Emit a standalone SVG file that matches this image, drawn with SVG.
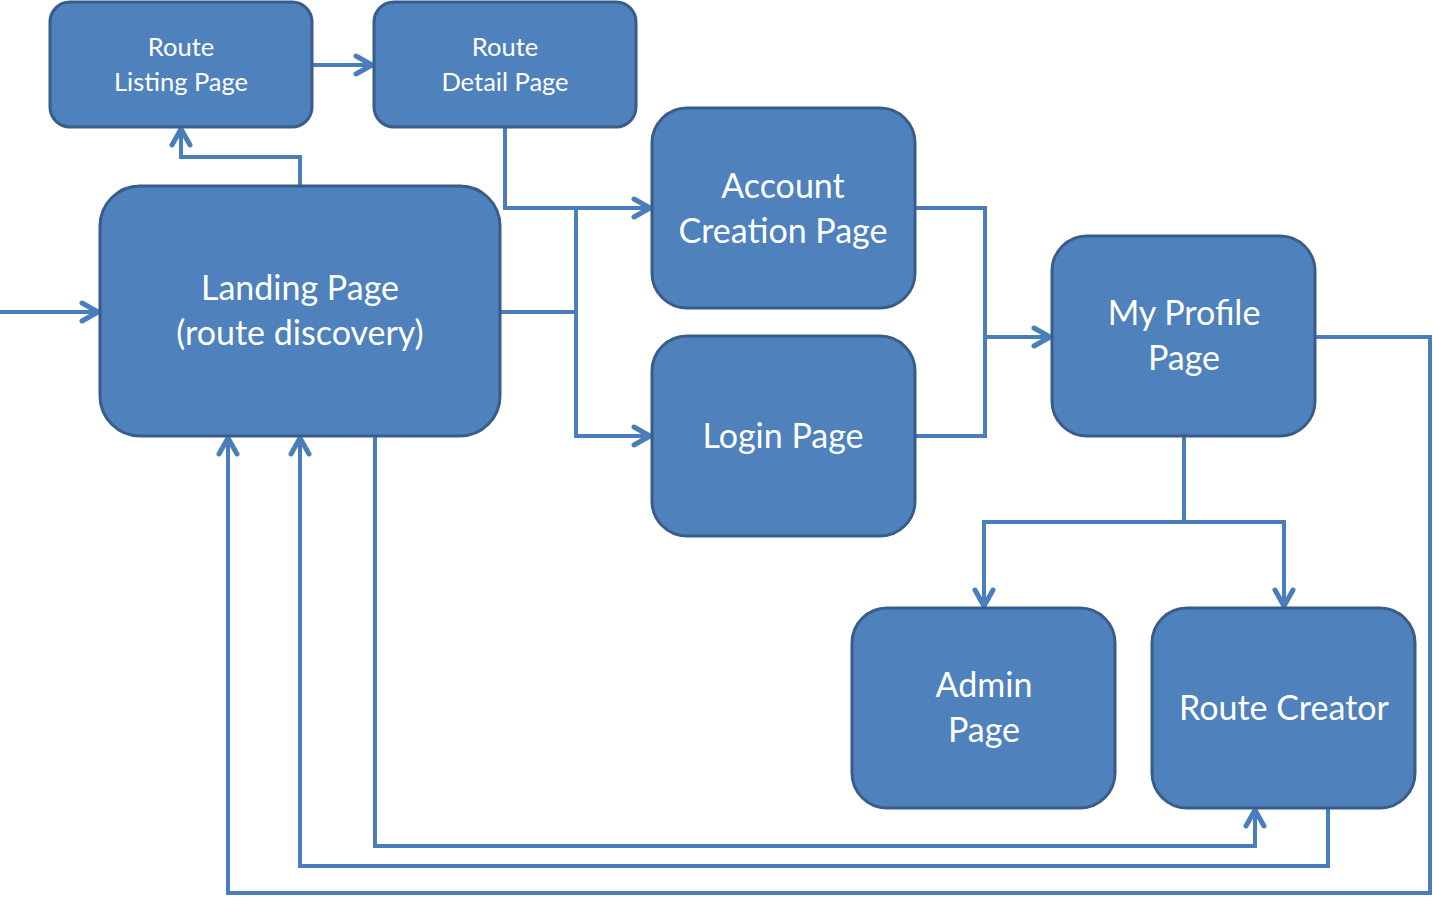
<svg xmlns="http://www.w3.org/2000/svg" width="1433" height="897" viewBox="0 0 1433 897">
<defs>
<style>
.node{fill:#4F81BD;stroke:#385D8A;stroke-width:3}
.t{fill:#fff;font-family:Lato,"Open Sans","Noto Sans",sans-serif;text-anchor:middle}
.s{font-size:25.5px}
.b{font-size:34px}
.c{fill:none;stroke:#4A7EBB;stroke-width:4;stroke-linejoin:miter}
</style>
<marker id="a" viewBox="0 0 22 24" refX="19" refY="12" markerWidth="22" markerHeight="24" markerUnits="userSpaceOnUse" orient="auto">
<path d="M3,3 L19,12 L3,21" fill="none" stroke="#4A7EBB" stroke-width="5" stroke-linecap="round" stroke-linejoin="round"/>
</marker>
</defs>
<rect width="1433" height="897" fill="#fff"/>
<g id="connectors">
<path class="c" d="M0,312 H98" marker-end="url(#a)"/>
<path class="c" d="M312,65 H372" marker-end="url(#a)"/>
<path class="c" d="M300,186 V157 H181 V129" marker-end="url(#a)"/>
<path class="c" d="M505,127 V208 H650" marker-end="url(#a)"/>
<path class="c" d="M500,312 H576 V208"/>
<path class="c" d="M576,312 V436 H650" marker-end="url(#a)"/>
<path class="c" d="M915,208 H985 V436 H915"/>
<path class="c" d="M985,337 H1050" marker-end="url(#a)"/>
<path class="c" d="M1184,436 V522 H984 V606" marker-end="url(#a)"/>
<path class="c" d="M1184,522 H1284 V606" marker-end="url(#a)"/>
<path class="c" d="M1315,337 H1430 V893 H228 V438" marker-end="url(#a)"/>
<path class="c" d="M1328,808 V866 H300 V438" marker-end="url(#a)"/>
<path class="c" d="M375,436 V846 H1255 V810" marker-end="url(#a)"/>
</g>
<g id="route-listing">
<rect class="node" x="50" y="2" width="262" height="125" rx="20"/>
<text class="t s" x="181" y="56">Route</text>
<text class="t s" x="181" y="91">Listing Page</text>
</g>
<g id="route-detail">
<rect class="node" x="374" y="2" width="262" height="125" rx="20"/>
<text class="t s" x="505" y="56">Route</text>
<text class="t s" x="505" y="91">Detail Page</text>
</g>
<g id="landing">
<rect class="node" x="100" y="186" width="400" height="250" rx="40"/>
<text class="t b" x="300" y="300">Landing Page</text>
<text class="t b" x="300" y="345">(route discovery)</text>
</g>
<g id="account">
<rect class="node" x="652" y="108" width="263" height="200" rx="35"/>
<text class="t b" x="783" y="198">Account</text>
<text class="t b" x="783" y="243">Creation Page</text>
</g>
<g id="login">
<rect class="node" x="652" y="336" width="263" height="200" rx="35"/>
<text class="t b" x="783" y="448">Login Page</text>
</g>
<g id="profile">
<rect class="node" x="1052" y="236" width="263" height="200" rx="35"/>
<text class="t b" x="1184" y="325">My Profile</text>
<text class="t b" x="1184" y="370">Page</text>
</g>
<g id="admin">
<rect class="node" x="852" y="608" width="263" height="200" rx="35"/>
<text class="t b" x="984" y="697">Admin</text>
<text class="t b" x="984" y="742">Page</text>
</g>
<g id="route-creator">
<rect class="node" x="1152" y="608" width="263" height="200" rx="35"/>
<text class="t b" x="1284" y="720">Route Creator</text>
</g>
</svg>
